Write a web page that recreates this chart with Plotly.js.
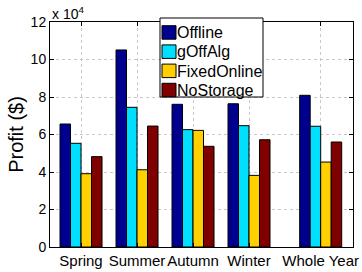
<!DOCTYPE html>
<html><head><meta charset="utf-8">
<script src="https://cdn.plot.ly/plotly-3.0.1.min.js"></script>
<style>html,body{margin:0;padding:0;background:#fff}</style>
</head><body><div id="chart" style="width:362px;height:272px"></div>
<script>
const categories = ["Spring", "Summer", "Autumn", "Winter", "Whole Year"];
const positions = [1, 2, 3, 4, 5.28];
const offline = [65600, 105100, 76100, 76400, 80900];
const gOffAlg = [55300, 74500, 62600, 64700, 64400];
const fixedOnline = [39100, 41200, 62200, 38200, 45300];
const noStorage = [48200, 64500, 53700, 57200, 56000];
const yTickVals = [0, 20000, 40000, 60000, 80000, 100000, 120000];
const yTickText = ["0", "2", "4", "6", "8", "10", "12"];

const series = [
  {name: "Offline", y: offline, color: "#00008F"},
  {name: "gOffAlg", y: gOffAlg, color: "#00DFFF"},
  {name: "FixedOnline", y: fixedOnline, color: "#FFCF00"},
  {name: "NoStorage", y: noStorage, color: "#800000"}
];
const W = 362, H = 272, M = {l: 50, r: 9, t: 22, b: 25};
const pw = W - M.l - M.r, ph = H - M.t - M.b;
const px = v => (v - M.l) / pw;
const py = v => 1 - (v - M.t) / ph;

const traces = series.map(s => ({
  type: "bar", name: s.name, x: positions, y: s.y, showlegend: false,
  marker: {color: s.color, line: {color: "#000", width: 1}}
}));
const fam = "Liberation Sans, Arial, sans-serif";

// custom legend (MATLAB style)
const shapes = [{type: "rect", xref: "paper", yref: "paper", x0: px(160), x1: px(263), y0: py(97), y1: py(18),
  fillcolor: "#fff", line: {color: "#000", width: 1}, layer: "above"}];
const annotations = [{xref: "paper", yref: "paper", x: 0, y: 1, xanchor: "left", yanchor: "bottom",
  yshift: -2, showarrow: false, text: "x 10<sup>4</sup>", font: {family: fam, size: 14, color: "#000"}}];
series.forEach((s, i) => {
  const top = 25.7 + 19.2 * i;
  shapes.push({type: "rect", xref: "paper", yref: "paper", x0: px(162), x1: px(176), y0: py(top + 13.5), y1: py(top),
    fillcolor: s.color, line: {color: "#000", width: 1}, layer: "above"});
  annotations.push({xref: "paper", yref: "paper", x: px(176), y: py(top + 6.9), xanchor: "left", yanchor: "middle",
    showarrow: false, text: s.name, font: {family: fam, size: 16, color: "#000"}, xshift: -1});
});

const layout = {
  width: W, height: H, margin: M,
  paper_bgcolor: "#fff", plot_bgcolor: "#fff",
  font: {family: fam, size: 14, color: "#000"},
  barmode: "group", bargap: 0.25, bargroupgap: 0,
  showlegend: false,
  xaxis: {range: [0.446, 5.857], tickvals: positions, ticktext: categories, tickangle: 0,
    showline: true, linecolor: "#000", linewidth: 1, mirror: "ticks",
    ticks: "inside", ticklen: 4, tickcolor: "#000",
    showgrid: true, gridcolor: "#c8c8c8", griddash: "dot", gridwidth: 1,
    zeroline: false, tickfont: {family: fam, size: 15, color: "#000"}},
  yaxis: {range: [0, 120000], tickvals: yTickVals, ticktext: yTickText,
    showline: true, linecolor: "#000", linewidth: 1, mirror: "ticks",
    ticks: "inside", ticklen: 4, tickcolor: "#000",
    showgrid: true, gridcolor: "#c8c8c8", griddash: "dot", gridwidth: 1,
    zeroline: false, tickfont: {family: fam, size: 14, color: "#000"},
    title: {text: "Profit ($)", font: {family: fam, size: 20, color: "#000"}, standoff: 1}},
  shapes: shapes,
  annotations: annotations
};
Plotly.newPlot("chart", traces, layout, {displayModeBar: false, staticPlot: true});
</script></body></html>
